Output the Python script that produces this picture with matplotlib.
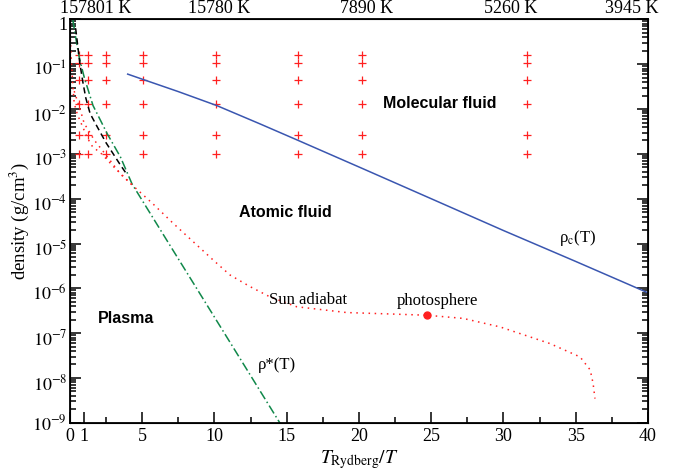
import matplotlib
matplotlib.use('Agg')
import matplotlib.pyplot as plt
import matplotlib.ticker as ticker
import matplotlib.transforms as mtransforms
import numpy as np

plt.rcParams['font.family'] = 'Liberation Serif'
plt.rcParams['mathtext.fontset'] = 'stix'

# simulation grid (red crosses)
grid_x = [0.63, 1.26, 2.53, 5.05, 10.1, 15.8, 20.2, 31.6]
grid_rho = [0.16, 0.105, 0.045, 0.013, 0.0027, 0.001]

# critical density rho_c(T), log10 values
rhoc_x = [4.0, 5.07, 7.5, 10.15, 13.15, 15.8, 20.2, 25.14, 30, 35, 40]
rhoc_log = [-1.22, -1.34, -1.61, -1.92, -2.33, -2.70, -3.32, -4.02, -4.71, -5.40, -6.1]

# rho*(T)
rstar_x = [0.2, 0.4, 0.65, 1.0, 1.6, 2.6, 3.5, 4.3, 7.0, 10.0, 12.3, 14.6]
rstar_log = [0.0, -0.4, -0.85, -1.3, -1.92, -2.56, -3.07, -3.67, -5.08, -6.64, -7.84, -9.04]

# black dashed curve
dash_x = [0.4, 0.55, 0.7, 0.9, 1.1, 1.4, 1.9, 2.5, 3.0, 3.5, 3.97]
dash_log = [-0.2, -0.6, -1.0, -1.4, -1.75, -2.1, -2.4, -2.75, -3.0, -3.25, -3.47]

# sun adiabat (two branches at high T)
sun_x = [0.02, 0.1, 0.2, 0.3, 0.53, 0.88, 1.22, 1.57, 2.2, 3.04, 3.7, 4.43, 5.7, 7.15, 9.92,
         11.07, 12.46, 13.84, 15.69, 19.15, 22.0, 24.7, 27.2, 29.76, 33.2, 35.3, 36.0, 36.2, 36.33]
sun_log = [-0.3, -0.9, -1.45, -1.87, -2.13, -2.39, -2.65, -2.84, -3.0, -3.29, -3.5, -3.73, -4.10, -4.55, -5.37,
           -5.70, -5.96, -6.19, -6.41, -6.54, -6.57, -6.60, -6.67, -6.86, -7.23, -7.53, -7.82, -8.12, -8.46]
sun2_x = [0.3, 0.76, 0.99, 1.34, 1.68, 2.2, 2.77, 3.5, 4.43]
sun2_log = [-1.6, -2.06, -2.32, -2.5, -2.69, -2.9, -3.14, -3.45, -3.73]

photo_x = 24.7
photo_log = -6.60

top_pos = [1, 10, 20, 30, 40]
top_labels = ['157801 K', '15780 K', '7890 K', '5260 K', '3945 K']
top_shift = [11, 5, 8, 7, -16]  # pixel offsets of top labels

fig = plt.figure(figsize=(6.85, 4.74), dpi=100)
ax = fig.add_axes([0.102, 0.108, 0.844, 0.851])

red = '#ff2020'
gx, gy = np.meshgrid(grid_x, grid_rho)
ax.plot(gx.ravel(), gy.ravel(), '+', color=red, ms=6, mew=0.9, ls='none')

ax.plot(rhoc_x, 10**np.array(rhoc_log), '-', color='#3a56b0', lw=1.1)
ax.plot(rstar_x, 10**np.array(rstar_log), color='#10884a', lw=1.1, dashes=[6, 2, 1, 2])
ax.plot(dash_x, 10**np.array(dash_log), color='black', lw=1.1, dashes=[4, 2.5])
ax.plot(sun_x, 10**np.array(sun_log), color=red, lw=1.1, dashes=[1, 3])
ax.plot(sun2_x, 10**np.array(sun2_log), color=red, lw=1.1, dashes=[1, 3])
ax.plot([photo_x], [10**photo_log], 'o', color=red, ms=5)

ax.set_yscale('log')
ax.set_xlim(0, 40)
ax.set_ylim(1e-9, 1)

ax.set_xticks([0, 1, 5, 10, 15, 20, 25, 30, 35, 40])
ax.set_xticks([2.5, 7.5, 12.5, 17.5, 22.5, 27.5, 32.5, 37.5], minor=True)
ax.set_yticks([10.0**k for k in range(-9, 1)])
ax.yaxis.set_minor_locator(ticker.LogLocator(base=10, subs=np.arange(2, 10), numticks=20))
ax.yaxis.set_minor_formatter(ticker.NullFormatter())


def yfmt(v, pos):
    e = int(round(np.log10(v)))
    if e == 0:
        return '1'
    return r'$10^{%d}$' % e


ax.yaxis.set_major_formatter(ticker.FuncFormatter(yfmt))
ax.tick_params(which='both', direction='in', top=True, right=True, labelsize=13, width=1.1)
ax.tick_params(which='major', length=8)
ax.tick_params(which='minor', length=4)
ax.tick_params(axis='x', pad=4)
ax.tick_params(axis='y', pad=2)
for s in ax.spines.values():
    s.set_linewidth(1.3)

# y labels sit a little below their ticks, as in the original (not the bottom one)
down = mtransforms.ScaledTranslation(0, -4 / 100, fig.dpi_scale_trans)
for lab in ax.get_yticklabels()[1:]:
    lab.set_transform(lab.get_transform() + down)

ax2 = ax.twiny()
ax2.set_xlim(0, 40)
ax2.set_xticks(top_pos)
ax2.set_xticklabels(top_labels)
ax2.tick_params(direction='in', length=0, labelsize=13, pad=2)
for lab, dx in zip(ax2.get_xticklabels(), top_shift):
    lab.set_transform(lab.get_transform() + mtransforms.ScaledTranslation(dx / 100, 0, fig.dpi_scale_trans))

ax.set_xlabel(r'$T_{\rm Rydberg}/T$', fontsize=14, labelpad=2)
ax.set_ylabel(r'density (g/cm$^3$)', fontsize=13.5, labelpad=1)

bold = dict(family='Liberation Sans', weight='bold', fontsize=11.5, ha='center', va='center')
ax.text(25.6, 10**-1.886, 'Molecular fluid', **bold)
ax.text(14.9, 10**-4.31, 'Atomic fluid', **bold)
ax.text(3.9, 10**-6.67, 'Plasma', **bold)

ax.text(35.1, 10**-4.88, r'ρ$_{\rm c}$(T)', fontsize=12, ha='center', va='center')
ax.text(14.3, 10**-7.71, 'ρ*(T)', fontsize=12, ha='center', va='center')
ax.text(16.5, 10**-6.26, 'Sun adiabat', fontsize=12, ha='center', va='center')
ax.text(25.4, 10**-6.28, 'photosphere', fontsize=12, ha='center', va='center')

fig.savefig('out.png', dpi=100)
plt.close(fig)
